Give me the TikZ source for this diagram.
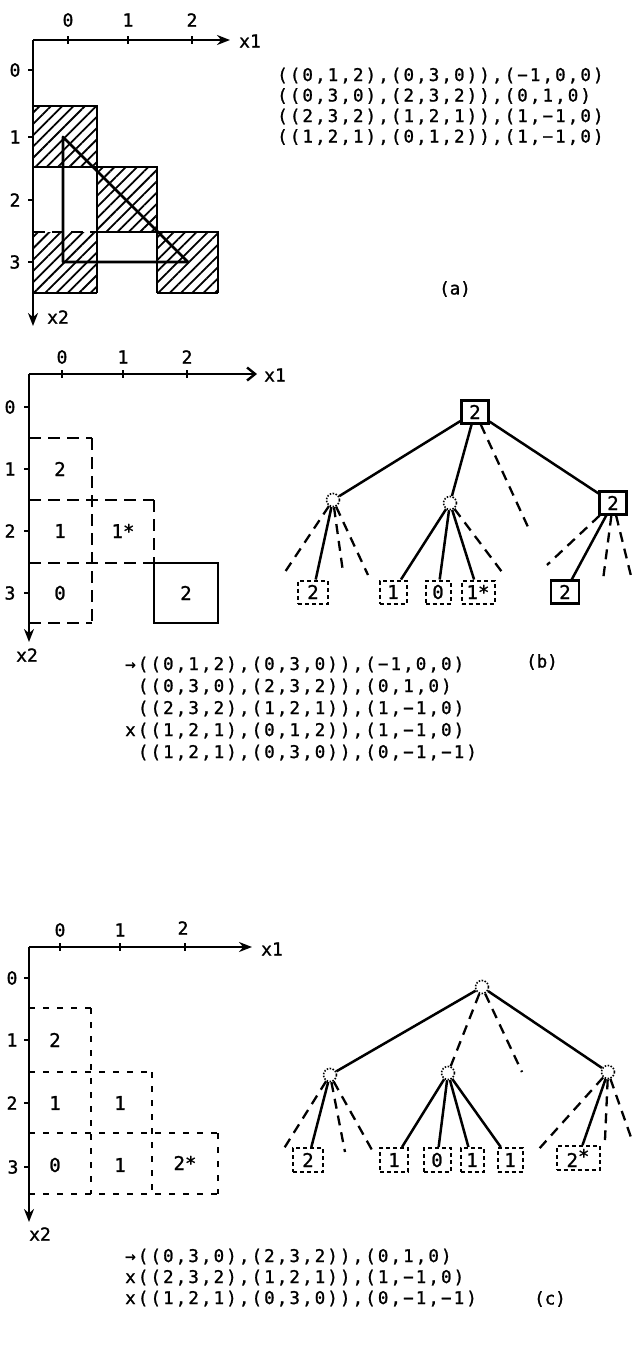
\documentclass[tikz,border=0pt]{standalone}
\usepackage{fontspec}
\newfontfamily\typeA[LetterSpace=12,FakeBold=1.2]{DejaVu Sans Mono}
\newfontfamily\plainmono[FakeBold=1.2]{DejaVu Sans Mono}
\usetikzlibrary{arrows.meta,patterns.meta}
\begin{document}
\begin{tikzpicture}[x=1pt,y=-1pt,
  lbl/.style={font=\plainmono\fontsize{18}{18}\selectfont,inner sep=0pt},
  celltext/.style={font=\plainmono\fontsize{19}{19}\selectfont,inner sep=0pt},
  typed/.style={font=\typeA\fontsize{17.5}{20}\selectfont,inner sep=0pt,anchor=base west},
  caption/.style={font=\plainmono\fontsize{17.5}{17.5}\selectfont,inner sep=0pt},
  axis/.style={line width=2.7pt,-{Stealth[length=13pt,width=10pt]}},
  baraxis/.style={line width=2.7pt,-{Straight Barb[length=8pt,width=13pt,line width=2.4pt]}},
  tickmark/.style={line width=1.8pt},
  cellsolid/.style={line width=2.6pt},
  celldash/.style={line width=2.3pt,dash pattern=on 12pt off 7pt},
  celldot/.style={line width=2.3pt,dash pattern=on 6pt off 8pt},
  hatch/.style={pattern={Lines[angle=45,distance=8pt,line width=1.8pt]}},
  edgeline/.style={line width=2.5pt},
  stub/.style={line width=2.3pt,dash pattern=on 10pt off 7pt},
  leafsolid/.style={draw,line width=2.3pt,minimum width=27pt,minimum height=23pt,
    font=\plainmono\fontsize{19}{19}\selectfont,inner sep=0pt},
  leafdash/.style={leafsolid,line width=2pt,dash pattern=on 4pt off 3pt},
  knot/.style={circle,draw,line width=1.6pt,dash pattern=on 1.5pt off 1.5pt,
    minimum size=13pt,inner sep=0pt},
]
\fill[white] (0,0) rectangle (635,1345);
\useasboundingbox (0,0) rectangle (635,1345);

% ---------------- panel (a): polygon and covered cells ----------------
\fill[hatch] (33,106) rectangle (97,167);
\fill[hatch] (97,167) rectangle (157,232);
\fill[hatch] (33,232) rectangle (97,293);
\fill[hatch] (157,232) rectangle (218,293);
\draw[cellsolid] (33,106) -- (97,106) -- (97,293);
\draw[cellsolid] (33,167) -- (157,167) -- (157,293);
\draw[cellsolid] (97,232) -- (218,232) -- (218,293);
\draw[celldash] (33,232) -- (97,232);
\draw[cellsolid] (33,293) -- (97,293);
\draw[cellsolid] (157,293) -- (218,293);
\draw[line width=2.8pt,line join=round] (63,137) -- (63,262) -- (188,262) -- cycle;

\coordinate (aO) at (33,40);
\coordinate (aX) at (230,40);
\coordinate (aY) at (33,326);
\draw[axis] (aO) -- (aX);
\draw[axis] (aO) -- (aY);
\foreach \x in {68,128,192} \draw[tickmark] (\x,36) -- (\x,44);
\foreach \y in {70,137,200,262} \draw[tickmark] (28,\y) -- (33,\y);
\node[lbl] (ax0) at (68,20) {0};
\node[lbl] (ax1) at (128,20) {1};
\node[lbl] (ax2) at (192,20) {2};
\node[lbl] (ay0) at (15,70) {0};
\node[lbl] (ay1) at (15,137) {1};
\node[lbl] (ay2) at (15,200) {2};
\node[lbl] (ay3) at (15,262) {3};
\node[lbl] (axl) at (250,41) {x1};
\node[lbl] (ayl) at (58,317) {x2};

\node[typed] (ta1) at (277,81) {((0,1,2),(0,3,0)),(−1,0,0)};
\node[typed] (ta2) at (277,101.5) {((0,3,0),(2,3,2)),(0,1,0)};
\node[typed] (ta3) at (277,122) {((2,3,2),(1,2,1)),(1,−1,0)};
\node[typed] (ta4) at (277,142.5) {((1,2,1),(0,1,2)),(1,−1,0)};
\node[caption] (capA) at (455,289) {(a)};

% ---------------- panel (b): cell grid ----------------
\draw[celldash] (29,438) -- (92,438);
\draw[celldash] (92,438) -- (92,623);
\draw[celldash] (29,500) -- (154,500);
\draw[celldash] (154,500) -- (154,563);
\draw[celldash] (29,563) -- (154,563);
\draw[celldash] (29,623) -- (92,623);
\draw[cellsolid] (154,563) rectangle (218,623);

\coordinate (bO) at (29,374);
\coordinate (bX) at (257,374);
\coordinate (bY) at (29,642);
\draw[baraxis] (bO) -- (bX);
\draw[axis] (bO) -- (bY);
\foreach \x in {62,123,187} \draw[tickmark] (\x,370) -- (\x,378);
\foreach \y in {407,469,531,593} \draw[tickmark] (24,\y) -- (29,\y);
\node[lbl] (bx0) at (62,357) {0};
\node[lbl] (bx1) at (123,357) {1};
\node[lbl] (bx2) at (187,357) {2};
\node[lbl] (by0) at (10,407) {0};
\node[lbl] (by1) at (10,469) {1};
\node[lbl] (by2) at (10,531) {2};
\node[lbl] (by3) at (10,593) {3};
\node[lbl] (bxl) at (275,375) {x1};
\node[lbl] (byl) at (27,655) {x2};
\node[celltext] (bc01) at (60,469) {2};
\node[celltext] (bc02) at (60,531) {1};
\node[celltext] (bc12) at (123,531) {1*};
\node[celltext] (bc03) at (60,593) {0};
\node[celltext] (bc23) at (186,593) {2};

% ---------------- panel (b): search tree ----------------
\node[leafsolid] (bR) at (475,412) {2};
\node[knot] (bL) at (333,500) {};
\node[knot] (bM) at (450,503) {};
\node[leafsolid] (bRt) at (613,503) {2};
\node[leafdash,minimum width=30pt] (bl1) at (313,592) {2};
\node[leafdash] (bl2) at (393,592) {1};
\node[leafdash,minimum width=25pt] (bl3) at (438,592) {0};
\node[leafdash,minimum width=33pt] (bl4) at (478,592) {1*};
\node[leafsolid,minimum width=28pt] (bl5) at (565,592) {2};
\coordinate (bs0) at (528,527);
\coordinate (bs1) at (285,572);
\coordinate (bs2) at (343,572);
\coordinate (bs3) at (368,575);
\coordinate (bs4) at (502,572);
\coordinate (bs5) at (547,565);
\coordinate (bs6) at (603,580);
\coordinate (bs7) at (632,580);
\draw[edgeline] (bR) -- (bL);
\draw[edgeline] (bR) -- (bM);
\draw[edgeline] (bR) -- (bRt);
\draw[stub] (bR) -- (bs0);
\draw[stub] (bL) -- (bs1);
\draw[edgeline] (bL) -- (bl1);
\draw[stub] (bL) -- (bs2);
\draw[stub] (bL) -- (bs3);
\draw[edgeline] (bM) -- (bl2);
\draw[edgeline] (bM) -- (bl3);
\draw[edgeline] (bM) -- (bl4);
\draw[stub] (bM) -- (bs4);
\draw[stub] (bRt) -- (bs5);
\draw[edgeline] (bRt) -- (bl5);
\draw[stub] (bRt) -- (bs6);
\draw[stub] (bRt) -- (bs7);

\node[typed] (tb1) at (125,670) {→((0,1,2),(0,3,0)),(−1,0,0)};
\node[typed] (tb2) at (137.7,692) {((0,3,0),(2,3,2)),(0,1,0)};
\node[typed] (tb3) at (137.7,714) {((2,3,2),(1,2,1)),(1,−1,0)};
\node[typed] (tb4) at (125,736) {x((1,2,1),(0,1,2)),(1,−1,0)};
\node[typed] (tb5) at (137.7,758) {((1,2,1),(0,3,0)),(0,−1,−1)};
\node[caption] (capB) at (542,662) {(b)};

% ---------------- panel (c): cell grid ----------------
\draw[celldot] (29,1008) -- (91,1008);
\draw[celldot] (91,1008) -- (91,1194);
\draw[celldot] (29,1072) -- (152,1072);
\draw[celldot] (152,1072) -- (152,1194);
\draw[celldot] (29,1133) -- (218,1133);
\draw[celldot] (218,1133) -- (218,1194);
\draw[celldot] (29,1194) -- (218,1194);

\coordinate (cO) at (29,947);
\coordinate (cX) at (252,947);
\coordinate (cY) at (29,1222);
\draw[axis] (cO) -- (cX);
\draw[axis] (cO) -- (cY);
\foreach \x in {60,120,185} \draw[tickmark] (\x,943) -- (\x,951);
\foreach \y in {978,1040,1103,1167} \draw[tickmark] (24,\y) -- (29,\y);
\node[lbl] (cx0) at (60,930) {0};
\node[lbl] (cx1) at (120,930) {1};
\node[lbl] (cx2) at (183,928) {2};
\node[lbl] (cy0) at (12,978) {0};
\node[lbl] (cy1) at (12,1040) {1};
\node[lbl] (cy2) at (12,1103) {2};
\node[lbl] (cy3) at (13,1167) {3};
\node[lbl] (cxl) at (272,949) {x1};
\node[lbl] (cyl) at (40,1234) {x2};
\node[celltext] (cc01) at (55,1040) {2};
\node[celltext] (cc02) at (55,1103) {1};
\node[celltext] (cc12) at (120,1103) {1};
\node[celltext] (cc03) at (55,1165) {0};
\node[celltext] (cc13) at (120,1165) {1};
\node[celltext] (cc23) at (185,1163) {2*};

% ---------------- panel (c): search tree ----------------
\node[knot] (cR) at (482,987) {};
\node[knot] (cL) at (330,1075) {};
\node[knot] (cM) at (448,1073) {};
\node[knot] (cRt) at (608,1072) {};
\node[leafdash,minimum width=30pt,minimum height=24pt] (cl1) at (308,1160) {2};
\node[leafdash,minimum width=28pt,minimum height=24pt] (cl2) at (394,1160) {1};
\node[leafdash,minimum width=27pt,minimum height=24pt] (cl3) at (437,1160) {0};
\node[leafdash,minimum width=23pt,minimum height=24pt] (cl4) at (472,1160) {1};
\node[leafdash,minimum width=25pt,minimum height=24pt] (cl5) at (510,1160) {1};
\node[leafdash,minimum width=43pt,minimum height=24pt] (cl6) at (578,1158) {2\raisebox{4pt}{*}};
\coordinate (cs0) at (522,1072);
\coordinate (cs1) at (283,1150);
\coordinate (cs2) at (345,1152);
\coordinate (cs3) at (372,1150);
\coordinate (cs4) at (538,1150);
\coordinate (cs5) at (605,1140);
\coordinate (cs6) at (633,1143);
\draw[edgeline] (cR) -- (cL);
\draw[stub] (cR) -- (cM);
\draw[stub] (cR) -- (cs0);
\draw[edgeline] (cR) -- (cRt);
\draw[stub] (cL) -- (cs1);
\draw[edgeline] (cL) -- (cl1);
\draw[stub] (cL) -- (cs2);
\draw[stub] (cL) -- (cs3);
\draw[edgeline] (cM) -- (cl2);
\draw[edgeline] (cM) -- (cl3);
\draw[edgeline] (cM) -- (cl4);
\draw[edgeline] (cM) -- (cl5);
\draw[stub] (cRt) -- (cs4);
\draw[edgeline] (cRt) -- (cl6);
\draw[stub] (cRt) -- (cs5);
\draw[stub] (cRt) -- (cs6);

\node[typed] (tc1) at (125,1262) {→((0,3,0),(2,3,2)),(0,1,0)};
\node[typed] (tc2) at (125,1283) {x((2,3,2),(1,2,1)),(1,−1,0)};
\node[typed] (tc3) at (125,1304) {x((1,2,1),(0,3,0)),(0,−1,−1)};
\node[caption] (capC) at (550,1299) {(c)};
\end{tikzpicture}
\end{document}
